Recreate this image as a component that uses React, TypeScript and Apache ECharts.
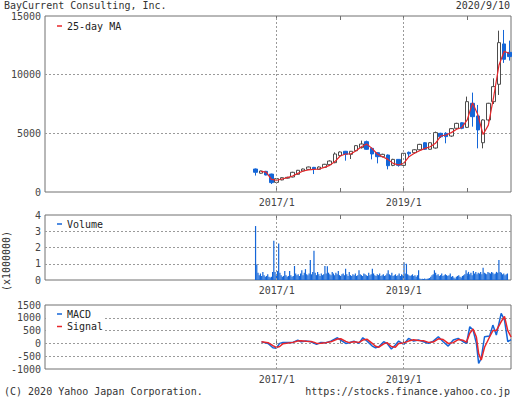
import React, { useEffect, useRef } from 'react';
import * as echarts from 'echarts';

// ---------- data ----------
const candleMonths = [
  '2016/9', '2016/10', '2016/11', '2016/12',
  '2017/1', '2017/2', '2017/3', '2017/4', '2017/5', '2017/6', '2017/7', '2017/8', '2017/9', '2017/10', '2017/11', '2017/12',
  '2018/1', '2018/2', '2018/3', '2018/4', '2018/5', '2018/6', '2018/7', '2018/8', '2018/9', '2018/10', '2018/11', '2018/12',
  '2019/1', '2019/2', '2019/3', '2019/4', '2019/5', '2019/6', '2019/7', '2019/8', '2019/9', '2019/10', '2019/11', '2019/12',
  '2020/1', '2020/2', '2020/3', '2020/4', '2020/5', '2020/6', '2020/7', '2020/8', '2020/9',
];
const opens = [1960, 1600, 1760, 1530, 820, 1030, 1180, 1280, 1510, 1790, 1930, 2100, 1930, 2100, 2330, 2500, 3100, 3470, 3210, 3520, 3780, 4290, 3720, 3350, 3010, 3150, 2270, 2780, 2270, 3380, 3350, 3600, 4200, 3640, 3750, 5000, 5000, 4770, 5430, 5900, 5510, 7560, 6480, 4200, 6140, 7700, 9180, 12620, 11900];
const closes = [1680, 1790, 1450, 800, 1140, 1220, 1250, 1680, 1850, 1960, 2130, 1960, 2130, 2360, 2640, 3240, 3410, 3210, 3470, 3950, 4090, 3640, 3240, 3010, 3210, 2240, 2780, 2270, 3300, 3250, 3600, 4060, 3640, 4200, 5060, 4710, 4720, 5400, 5850, 5430, 7700, 6420, 5290, 6140, 7560, 8980, 12730, 11310, 11540];
const lows = [1400, 1560, 1420, 680, 780, 1000, 1150, 1250, 1480, 1760, 1900, 1530, 1900, 2080, 2280, 2450, 3000, 2670, 2810, 3480, 3700, 3600, 2780, 2440, 2950, 1930, 2200, 2160, 2150, 2980, 3250, 3550, 3580, 3600, 3700, 4600, 4150, 4700, 5380, 5350, 5450, 5570, 3720, 3720, 6000, 7500, 8270, 11000, 11200];
const highs = [2000, 1830, 1800, 1560, 1170, 1260, 1300, 1720, 1880, 2000, 2160, 2140, 2180, 2400, 2700, 3380, 3460, 3500, 3490, 4000, 4380, 4380, 3800, 3400, 3260, 3200, 2830, 2810, 3320, 3450, 3650, 4100, 4250, 4250, 5150, 5050, 5100, 5450, 5900, 5950, 8130, 8470, 7420, 6200, 7600, 9690, 13750, 13810, 12900];
const ma25 = [null, 1760, 1700, 1080, 1000, 1110, 1220, 1360, 1590, 1790, 1880, 1930, 1960, 2100, 2270, 2590, 3070, 3240, 3240, 3520, 3860, 4090, 3720, 3240, 3010, 2780, 2440, 2300, 2440, 3010, 3300, 3520, 3720, 3860, 4150, 4770, 4860, 5060, 5350, 5500, 6140, 7600, 6600, 4900, 5700, 8100, 10800, 12000, 11800];

// weekly volume (x1,000,000 shares), starting at the first candle month
const volumeStart = '2016/9';
const volumeM = [
  3.32, 0.96, 0.45, 0.3, 0.4, 0.25, 0.5, 0.3, 0.2, 0.25, 0.35, 0.2, 0.15,
  0.2, 0.5, 2.42, 0.5, 0.3, 0.55, 2.24, 0.45, 0.3, 0.2, 0.25, 0.55, 0.3,
  0.2, 0.25, 0.55, 0.3, 0.2, 0.25, 0.86, 0.4, 0.3, 0.35, 0.25, 0.4, 0.6,
  0.3, 0.45, 0.67, 0.35, 0.3, 0.4, 1.23, 0.35, 0.5, 1.8, 0.45, 0.3, 0.5,
  0.35, 0.25, 0.4, 0.3, 0.35, 0.86, 0.4, 0.84, 0.45, 0.35, 0.3, 0.5, 0.4,
  0.3, 0.45, 0.35, 0.55, 0.3, 0.25, 0.35, 0.4, 0.3, 0.7, 0.35, 0.25, 0.5,
  0.3, 0.25, 0.35, 0.3, 0.4, 0.25, 0.3, 0.6, 0.35, 0.3, 0.25, 0.4, 0.35,
  0.3, 0.25, 0.45, 0.3, 0.35, 0.7, 0.4, 0.3, 0.25, 0.35, 0.3, 0.4, 0.25,
  0.3, 0.35, 0.25, 0.3, 0.4, 0.6, 0.35, 0.3, 0.45, 0.25, 0.3, 0.35, 0.25,
  0.3, 0.4, 0.25, 0.35, 0.3, 1.1, 0.4, 1.0, 0.35, 0.3, 0.25, 0.3, 0.35,
  0.25, 0.3, 0.2, 0.3, 0.6, 0.1, 0.05, 0.08, 0.06, 0.1, 0.05, 0.08, 0.1,
  0.12, 0.2, 0.3, 0.35, 0.6, 0.45, 0.3, 0.35, 0.25, 0.3, 0.4, 0.25, 0.3,
  0.35, 0.3, 0.25, 0.3, 0.4, 0.2, 0.25, 0.15, 0.1, 0.2, 0.25, 0.3, 0.2,
  0.15, 0.25, 0.3, 0.35, 0.6, 0.4, 0.5, 0.35, 0.45, 0.3, 0.55, 0.4, 0.5,
  0.35, 0.45, 0.4, 0.5, 0.35, 0.75, 0.45, 0.4, 0.35, 0.5, 0.45, 0.4, 0.5,
  0.45, 0.35, 0.4, 0.5, 0.45, 1.23, 0.5, 0.45, 0.35, 0.4, 0.3, 0.35, 0.4,
];

const macdDates = [
  '2016-10-05', '2016-11-12', '2016-12-10', '2016-12-29', '2017-01-18', '2017-02-06', '2017-04-04', '2017-05-02',
  '2017-05-21', '2017-06-19', '2017-07-17', '2017-08-05', '2017-08-18', '2017-09-12', '2017-10-11', '2017-11-08',
  '2017-12-16', '2018-01-04', '2018-02-02', '2018-02-21', '2018-03-21', '2018-04-19', '2018-05-11', '2018-06-05',
  '2018-07-04', '2018-07-23', '2018-08-11', '2018-09-08', '2018-09-27', '2018-10-22', '2018-11-14', '2018-12-03',
  '2019-01-01', '2019-01-29', '2019-02-27', '2019-03-27', '2019-04-25', '2019-05-23', '2019-06-20', '2019-07-19',
  '2019-08-16', '2019-09-14', '2019-10-13', '2019-11-10', '2019-12-09', '2019-12-28', '2020-01-16', '2020-02-04',
  '2020-02-23', '2020-03-07', '2020-03-22', '2020-04-10', '2020-05-09', '2020-05-28', '2020-06-17', '2020-07-15',
  '2020-08-03', '2020-08-22', '2020-09-10',
];
const macdValues = [
  60, 0, -170, -190, 0, 40, 40, 130,
  65, 90, 65, 0, -40, 40, 26, 90,
  220, 130, 0, 26, 90, 0, 220, 90,
  -105, -170, -130, 65, 0, -220, -65, 90,
  -40, 195, 90, 130, 65, 0, 90, 260,
  65, -105, 130, 195, 65, 0, 650, 520,
  0, -780, -585, 260, 285, 715, 325, 1170,
  910, 65, 150,
];
const signalValues = [
  60, 30, -90, -160, -120, -10, 40, 90,
  100, 80, 75, 40, 0, 10, 30, 60,
  170, 180, 80, 30, 60, 40, 130, 160,
  0, -110, -150, -20, 30, -120, -150, 0,
  20, 90, 140, 110, 100, 40, 50, 180,
  150, 0, 30, 150, 120, 50, 400, 560,
  250, -400, -650, -150, 250, 500, 500, 850,
  1050, 500, 250,
];

const labelYears = [2017, 2019];
const tickYears = [2017, 2018, 2019, 2020];
const gridLineYears = [2017, 2019];

// ---------- helpers ----------
const monthToX = (s: string) => {
  const [y, m] = s.split('/').map(Number);
  return y + (m - 1) / 12;
};
const dateToX = (s: string) => {
  const [y, m, d] = s.split('-').map(Number);
  const t0 = Date.UTC(y, 0, 1);
  const t1 = Date.UTC(y + 1, 0, 1);
  return y + (Date.UTC(y, m - 1, d) - t0) / (t1 - t0);
};

const X_MIN = 2013.35;
const X_MAX = 2020.69;
const FONT = 'DejaVu Sans Mono';
const BLUE = '#1466d8';
const RED = '#e8262a';
const FRAME = '#707070';
const GRIDLINE = '#9a9a9a';

export default function App() {
  const ref = useRef<HTMLDivElement>(null);

  useEffect(() => {
    if (!ref.current) return;
    const chart = echarts.init(ref.current, null, { renderer: 'svg' });

    const candleData = candleMonths.map((m, i) => [monthToX(m), opens[i], closes[i], lows[i], highs[i]]);
    const maData = candleMonths.map((m, i) => [monthToX(m), ma25[i]]);
    const v0 = monthToX(volumeStart);
    const volData = volumeM.map((v, i) => [v0 + (i * 7) / 365.25, v]);
    const macdData = macdDates.map((d, i) => [dateToX(d), macdValues[i]]);
    const sigData = macdDates.map((d, i) => [dateToX(d), signalValues[i]]);

    const labelStyle = { fontFamily: FONT, fontSize: 10, lineHeight: 10, color: '#444' };

    const grids = [
      { left: 45, right: 1, top: 16, height: 176 },
      { left: 45, right: 1, top: 215, height: 65 },
      { left: 45, right: 1, top: 305, height: 64 },
    ].map((g) => ({ ...g, show: true, borderColor: FRAME, borderWidth: 1, backgroundColor: 'transparent' }));

    const xAxes: any[] = [];
    for (let g = 0; g < 3; g++) {
      xAxes.push({
        type: 'value', gridIndex: g, min: X_MIN, max: X_MAX, position: 'bottom',
        axisLine: { show: false }, splitLine: { show: false },
        axisTick: { show: true, inside: true, length: 4, customValues: tickYears, lineStyle: { color: FRAME } },
        axisLabel: { show: true, customValues: labelYears, formatter: (v: number) => `${Math.round(v)}/1`, margin: 5, ...labelStyle },
      });
      xAxes.push({
        type: 'value', gridIndex: g, min: X_MIN, max: X_MAX, position: 'top',
        axisLine: { show: false }, splitLine: { show: false },
        axisTick: { show: true, inside: true, length: 4, customValues: tickYears, lineStyle: { color: FRAME } },
        axisLabel: { show: false },
      });
    }

    const ySplit = { show: true, showMinLine: false, showMaxLine: false, lineStyle: { color: GRIDLINE, type: [2, 2], width: 1 } };
    const yAxes = [
      { type: 'value', gridIndex: 0, min: 0, max: 15000, interval: 5000 },
      { type: 'value', gridIndex: 1, min: 0, max: 4, interval: 1 },
      { type: 'value', gridIndex: 2, min: -1000, max: 1500, interval: 500 },
    ].map((a) => ({
      ...a,
      axisLine: { show: false }, axisTick: { show: false },
      splitLine: ySplit,
      axisLabel: { margin: 4, formatter: (v: number) => String(v), ...labelStyle },
    }));

    const gridLineSeries = (g: number) => ({
      type: 'line', xAxisIndex: g * 2, yAxisIndex: g, data: [], silent: true, z: 1,
      markLine: {
        silent: true, symbol: ['none', 'none'], label: { show: false },
        lineStyle: { color: GRIDLINE, type: [2, 2], width: 1 },
        data: gridLineYears.map((y) => ({ xAxis: y })),
      },
    });

    const legendLine = (x: number, y: number, color: string) => ({
      type: 'line', z: 100, shape: { x1: x, y1: y, x2: x + 5, y2: y }, style: { stroke: color, lineWidth: 1.5 },
    });
    const legendText = (x: number, y: number, text: string) => ({
      type: 'text', z: 100, x, y,
      style: { text, fontFamily: FONT, fontSize: 10, lineHeight: 10, fill: '#222', verticalAlign: 'middle', align: 'left' },
    });
    const plainText = (x: number, y: number, text: string, align: string, extra: any = {}) => ({
      type: 'text', z: 100, x, y, ...extra,
      style: { text, fontFamily: FONT, fontSize: 10, lineHeight: 10, fill: '#333', verticalAlign: 'middle', align },
    });

    chart.setOption({
      animation: false,
      backgroundColor: '#fff',
      grid: grids,
      xAxis: xAxes,
      yAxis: yAxes,
      series: [
        gridLineSeries(0),
        gridLineSeries(1),
        gridLineSeries(2),
        {
          type: 'candlestick', name: 'Price', xAxisIndex: 0, yAxisIndex: 0, barWidth: 4, z: 3,
          itemStyle: { color: '#fff', color0: BLUE, borderColor: '#4d4d4d', borderColor0: BLUE, borderWidth: 1 },
          data: candleData,
        },
        {
          type: 'line', name: '25-day MA', xAxisIndex: 0, yAxisIndex: 0, z: 4, showSymbol: false, symbol: 'none',
          lineStyle: { color: RED, width: 1.2 }, data: maData, connectNulls: false,
        },
        {
          type: 'bar', name: 'Volume', xAxisIndex: 2, yAxisIndex: 1, barWidth: 1.2, z: 3,
          itemStyle: { color: BLUE }, data: volData,
        },
        {
          type: 'line', name: 'MACD', xAxisIndex: 4, yAxisIndex: 2, z: 3, symbol: 'none',
          lineStyle: { color: BLUE, width: 1.5 }, data: macdData,
        },
        {
          type: 'line', name: 'Signal', xAxisIndex: 4, yAxisIndex: 2, z: 4, symbol: 'none',
          lineStyle: { color: RED, width: 1.5 }, data: sigData,
        },
      ],
      graphic: [
        plainText(4, 5.5, 'BayCurrent Consulting, Inc.', 'left'),
        plainText(510, 5.5, '2020/9/10', 'right'),
        plainText(4, 391, '(C) 2020 Yahoo Japan Corporation.', 'left'),
        plainText(510, 391, 'https://stocks.finance.yahoo.co.jp', 'right'),
        plainText(6, 261, '(x1000000)', 'center', { rotation: Math.PI / 2 }),
        legendLine(57, 26, RED),
        legendText(67, 26, '25-day MA'),
        legendLine(57, 224, BLUE),
        legendText(67, 224, 'Volume'),
        { type: 'rect', z: 99, shape: { x: 46, y: 307, width: 58, height: 26 }, style: { fill: '#fff' } },
        legendLine(57, 314, BLUE),
        legendText(67, 314, 'MACD'),
        legendLine(57, 326.5, RED),
        legendText(67, 326.5, 'Signal'),
      ],
    });

    return () => chart.dispose();
  }, []);

  return <div ref={ref} style={{ position: 'absolute', left: 0, top: 0, width: 512, height: 399 }} />;
}
